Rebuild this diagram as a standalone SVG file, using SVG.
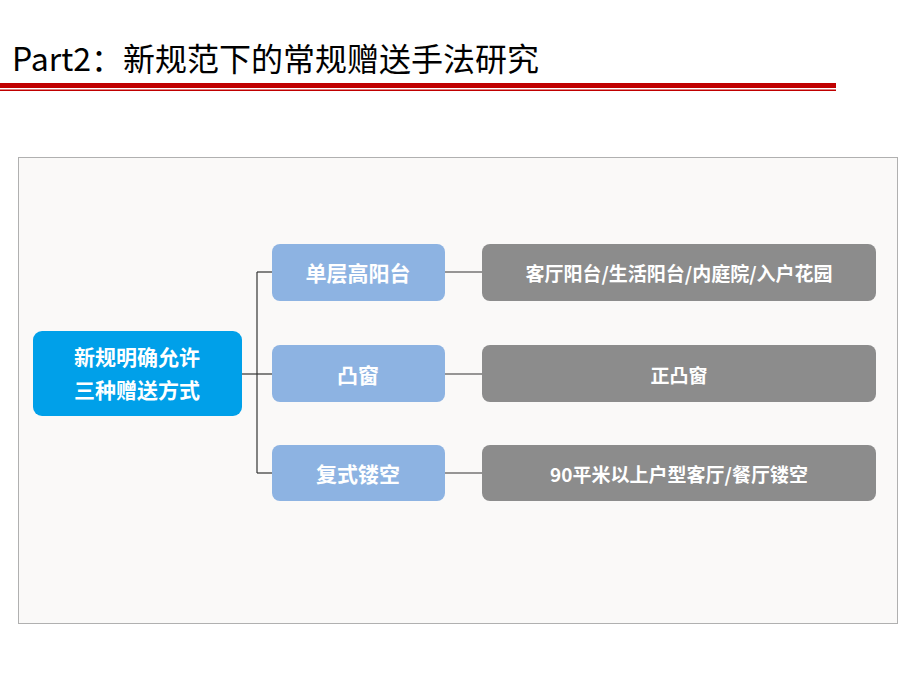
<svg xmlns="http://www.w3.org/2000/svg" width="920" height="690" viewBox="0 0 920 690">
<style>
text{font-family:"Noto Sans CJK SC","Liberation Sans",sans-serif;font-weight:bold;fill:#fff;text-anchor:middle;dominant-baseline:central}
.b{fill:#8db3e2}.g{fill:#8c8c8c}
.c line{stroke:#333;stroke-width:1.2}
</style>
<rect width="920" height="690" fill="#fff"/>
<text x="12" y="57" style="font-weight:normal;fill:#000;text-anchor:start;font-size:32px;font-family:'Noto Sans CJK SC',sans-serif">Part2：新规范下的常规赠送手法研究</text>
<rect x="0" y="83" width="836" height="5" fill="#c00000"/>
<rect x="0" y="89.5" width="836" height="1.5" fill="#c00000"/>
<rect x="18.5" y="157.5" width="879" height="466" fill="#faf9f8" stroke="#b0b0b0"/>
<g class="c">
<line x1="242" y1="374" x2="272" y2="374"/>
<line x1="257" y1="272" x2="257" y2="473"/>
<line x1="257" y1="272" x2="272" y2="272"/>
<line x1="257" y1="473" x2="272" y2="473"/>
<line x1="445" y1="272" x2="482" y2="272"/>
<line x1="445" y1="374" x2="482" y2="374"/>
<line x1="445" y1="473" x2="482" y2="473"/>
</g>
<g id="root"><rect x="33" y="331" width="209" height="85" rx="9" fill="#00a0e9"/><text x="137" y="356" font-size="21">新规明确允许</text><text x="137" y="389" font-size="21">三种赠送方式</text></g>
<g id="n1"><rect class="b" x="272" y="244" width="173" height="57" rx="8"/><text x="358" y="272" font-size="21">单层高阳台</text></g>
<g id="n2"><rect class="b" x="272" y="345" width="173" height="57" rx="8"/><text x="358" y="374" font-size="21">凸窗</text></g>
<g id="n3"><rect class="b" x="272" y="445" width="173" height="56" rx="8"/><text x="358" y="473" font-size="21">复式镂空</text></g>
<g id="g1"><rect class="g" x="482" y="244" width="394" height="57" rx="8"/><text x="679" y="272" font-size="19">客厅阳台/生活阳台/内庭院/入户花园</text></g>
<g id="g2"><rect class="g" x="482" y="345" width="394" height="57" rx="8"/><text x="679" y="374" font-size="19">正凸窗</text></g>
<g id="g3"><rect class="g" x="482" y="445" width="394" height="56" rx="8"/><text x="679" y="473" font-size="19">90平米以上户型客厅/餐厅镂空</text></g>
</svg>
